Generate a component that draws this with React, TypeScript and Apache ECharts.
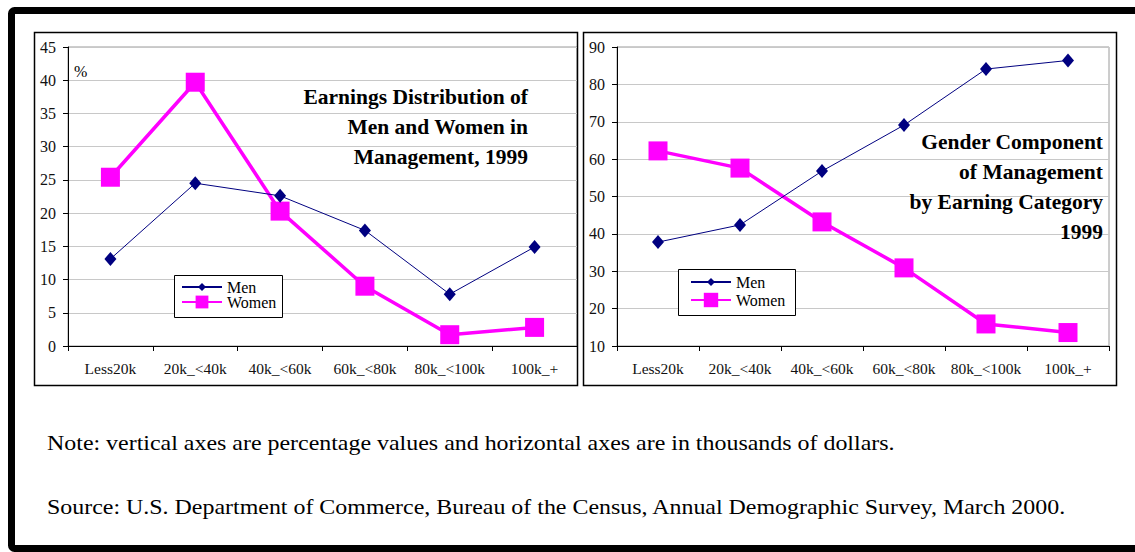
import React, { useEffect, useRef } from "react";
import * as echarts from "echarts";

const categories = ["Less20k", "20k_<40k", "40k_<60k", "60k_<80k", "80k_<100k", "100k_+"];
const distMen = [13.1, 24.5, 22.6, 17.4, 7.8, 14.9];
const distWomen = [25.4, 39.7, 20.3, 9.0, 1.7, 2.8];
const shareMen = [37.8, 42.4, 56.8, 69.1, 84.1, 86.4];
const shareWomen = [62.2, 57.6, 43.2, 30.9, 15.9, 13.6];
const leftTitle = ["Earnings Distribution of", "Men and Women in", "Management, 1999"];
const rightTitle = ["Gender Component", "of Management", "by Earning Category", "1999"];
const noteText = "Note: vertical axes are percentage values and horizontal axes are in thousands of dollars.";
const sourceText = "Source: U.S. Department of Commerce, Bureau of the Census, Annual Demographic Survey, March 2000.";

const FONT = "Liberation Serif";
const MEN = "#000080";
const WOMEN = "#FF00FF";

export default function App() {
  const ref = useRef<HTMLDivElement>(null);
  useEffect(() => {
    if (!ref.current) return;
    const chart = echarts.init(ref.current, null, { renderer: "svg" });

    const xAxisBase = (gridIndex: number) => ({
      type: "category" as const,
      gridIndex,
      data: categories,
      boundaryGap: true,
      axisLine: { lineStyle: { color: "#000", width: 1 } },
      axisTick: { show: true, length: 5, lineStyle: { color: "#000" } },
      axisLabel: { color: "#111", fontSize: 15.5, fontFamily: FONT, margin: 14, interval: 0 },
      splitLine: { show: false },
    });
    const yAxisBase = (gridIndex: number, min: number, max: number, interval: number) => ({
      type: "value" as const,
      gridIndex,
      min,
      max,
      interval,
      axisLine: { show: true, lineStyle: { color: "#000", width: 1 } },
      axisTick: { show: true, length: 5, lineStyle: { color: "#000" } },
      axisLabel: { color: "#111", fontSize: 16, fontFamily: FONT, margin: 12 },
      splitLine: { show: true, lineStyle: { color: "#c8c8c8", width: 1 } },
    });

    const womenSeries = (xi: number, data: number[]) => ({
      name: "Women",
      type: "line" as const,
      xAxisIndex: xi,
      yAxisIndex: xi,
      data,
      symbol: "rect",
      symbolSize: 19,
      lineStyle: { color: WOMEN, width: 3.5 },
      itemStyle: { color: WOMEN },
      z: 2,
    });
    const menSeries = (xi: number, data: number[]) => ({
      name: "Men",
      type: "line" as const,
      xAxisIndex: xi,
      yAxisIndex: xi,
      data,
      symbol: "diamond",
      symbolSize: [12, 14],
      lineStyle: { color: MEN, width: 1 },
      itemStyle: { color: MEN },
      z: 3,
    });

    const legendBase = (name: string, left: number, top: number, itemHeight: number) => ({
      data: [name],
      left,
      top,
      z: 8,
      orient: "vertical" as const,
      padding: 0,
      itemWidth: 40,
      itemHeight,
      selectedMode: false,
      textStyle: { color: "#000", fontSize: 16, fontFamily: FONT, lineHeight: 16 },
    });

    const titleText = (text: string, x: number, y: number) => ({
      type: "text" as const,
      x,
      y,
      z: 10,
      style: {
        text,
        fill: "#000",
        fontSize: 21.5,
        fontWeight: "bold",
        fontFamily: FONT,
        textAlign: "right",
        textVerticalAlign: "middle",
      },
    });

    const graphics: any[] = [
      {
        type: "rect",
        shape: { x: 11.5, y: 10.5, width: 1140, height: 538, r: 3 },
        style: { fill: "none", stroke: "#000", lineWidth: 7 },
        z: 0,
      },
      {
        type: "rect",
        shape: { x: 34.5, y: 32.5, width: 543, height: 353 },
        style: { fill: "none", stroke: "#000", lineWidth: 1.5 },
        z: 0,
      },
      {
        type: "rect",
        shape: { x: 583.5, y: 32.5, width: 533, height: 353 },
        style: { fill: "none", stroke: "#000", lineWidth: 1.5 },
        z: 0,
      },
      {
        type: "rect",
        shape: { x: 174.5, y: 275.5, width: 108, height: 42 },
        style: { fill: "#fff", stroke: "#000", lineWidth: 1 },
        z: 4,
      },
      {
        type: "rect",
        shape: { x: 678.5, y: 269.5, width: 117, height: 46 },
        style: { fill: "#fff", stroke: "#000", lineWidth: 1 },
        z: 4,
      },
      {
        type: "text",
        x: 74,
        y: 71,
        style: { text: "%", fill: "#000", fontSize: 16, fontFamily: FONT, textVerticalAlign: "middle" },
      },
      ...leftTitle.map((t, i) => titleText(t, 528, 97 + i * 30)),
      ...rightTitle.map((t, i) => titleText(t, 1103, 142 + i * 30)),
      {
        type: "text",
        x: 47,
        y: 443,
        scaleX: 1.14,
        style: { text: noteText, fill: "#000", fontSize: 21, fontFamily: FONT, textVerticalAlign: "middle" },
      },
      {
        type: "text",
        x: 47,
        y: 507,
        scaleX: 1.14,
        style: { text: sourceText, fill: "#000", fontSize: 21, fontFamily: FONT, textVerticalAlign: "middle" },
      },
    ];

    chart.setOption({
      animation: false,
      backgroundColor: "#fff",
      textStyle: { fontFamily: FONT },
      grid: [
        { left: 68, top: 47, width: 509, height: 299, show: true, borderColor: "#9a9a9a", borderWidth: 1, backgroundColor: "transparent" },
        { left: 617, top: 47, width: 492, height: 299, show: true, borderColor: "#9a9a9a", borderWidth: 1, backgroundColor: "transparent" },
      ],
      xAxis: [xAxisBase(0), xAxisBase(1)],
      yAxis: [yAxisBase(0, 0, 45, 5), yAxisBase(1, 10, 90, 10)],
      legend: [
        legendBase("Men", 181, 279, 10),
        legendBase("Women", 181, 294, 16),
        legendBase("Men", 690, 274, 10),
        legendBase("Women", 690, 292, 18),
      ],
      series: [
        womenSeries(0, distWomen),
        menSeries(0, distMen),
        womenSeries(1, shareWomen),
        menSeries(1, shareMen),
      ],
      graphic: graphics,
    });
    return () => chart.dispose();
  }, []);

  return (
    <div
      ref={ref}
      style={{ position: "fixed", left: 0, top: 0, width: 1135, height: 552, background: "#fff" }}
    />
  );
}
